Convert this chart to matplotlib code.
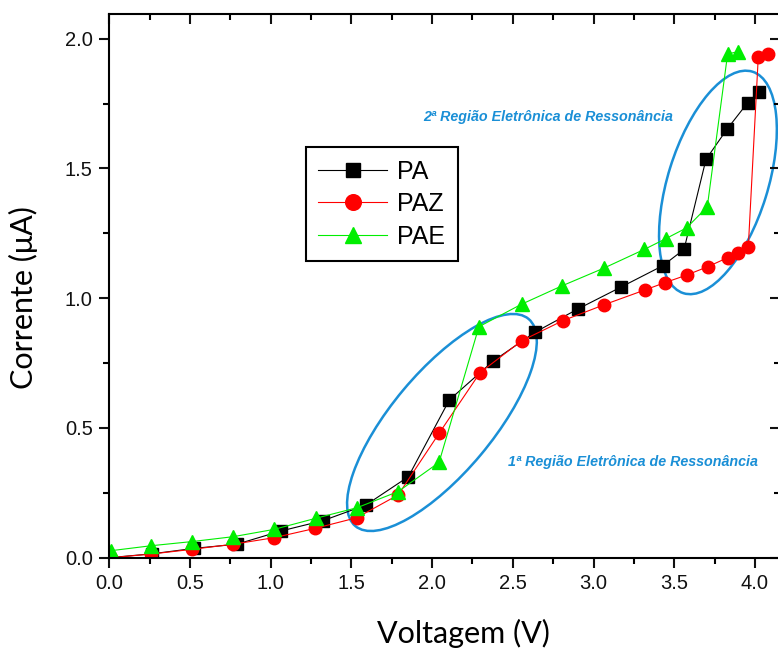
"""
Corrente vs Voltagem curves for PA, PAZ and PAE with resonance regions.
"""

import matplotlib
matplotlib.use('Agg')
import matplotlib.pyplot as plt
import matplotlib.transforms as mtransforms
from matplotlib.patches import Ellipse
from matplotlib.ticker import MultipleLocator, FormatStrFormatter

# PA (black squares)
pa_v = [0.0, 0.265, 0.527, 0.79, 1.064, 1.325, 1.59, 1.853, 2.107, 2.379, 2.638,
        2.902, 3.168, 3.429, 3.561, 3.697, 3.827, 3.955, 4.027]
pa_i = [0.0, 0.015, 0.036, 0.052, 0.103, 0.143, 0.203, 0.312, 0.608, 0.758, 0.869,
        0.958, 1.042, 1.125, 1.188, 1.535, 1.651, 1.753, 1.796]

# PAZ (red circles)
paz_v = [0.01, 0.258, 0.51, 0.768, 1.02, 1.275, 1.533, 1.79, 2.043, 2.297, 2.555,
         2.809, 3.067, 3.32, 3.443, 3.577, 3.707, 3.831, 3.893, 3.959, 4.021, 4.083]
paz_i = [0.0, 0.014, 0.032, 0.052, 0.077, 0.113, 0.154, 0.242, 0.479, 0.713, 0.836,
         0.913, 0.975, 1.032, 1.06, 1.089, 1.121, 1.156, 1.173, 1.196, 1.931, 1.941]

# PAE (green triangles)
pae_v = [0.01, 0.258, 0.51, 0.768, 1.02, 1.28, 1.537, 1.79, 2.043, 2.29, 2.555,
         2.803, 3.065, 3.315, 3.447, 3.577, 3.705, 3.831, 3.897]
pae_i = [0.027, 0.046, 0.062, 0.081, 0.109, 0.152, 0.193, 0.255, 0.367, 0.89, 0.977,
         1.047, 1.116, 1.188, 1.229, 1.271, 1.352, 1.941, 1.95]

BLUE = '#1a8fd6'

plt.rcParams['font.family'] = ['Liberation Sans', 'DejaVu Sans']

fig = plt.figure(figsize=(7.78, 6.5), dpi=100)
ax = fig.add_axes([109.3 / 778, (650 - 557.7) / 650,
                   (780 - 109.3) / 778, (557.7 - 14) / 650])

ax.plot(pa_v, pa_i, color='black', lw=0.8, marker='s', ms=8, label='PA')
ax.plot(paz_v, paz_i, color='red', lw=0.8, marker='o', ms=9, label='PAZ')
ax.plot(pae_v, pae_i, color='#00ee00', lw=0.8, marker='^', ms=9.5, label='PAE')

ax.set_xlim(0, (780 - 109.3) / 161.4)
ax.set_ylim(0, 2.095)

ax.xaxis.set_major_locator(MultipleLocator(0.5))
ax.xaxis.set_minor_locator(MultipleLocator(0.25))
ax.yaxis.set_major_locator(MultipleLocator(0.5))
ax.yaxis.set_minor_locator(MultipleLocator(0.25))
ax.xaxis.set_major_formatter(FormatStrFormatter('%.1f'))
ax.yaxis.set_major_formatter(FormatStrFormatter('%.1f'))

for s in ax.spines.values():
    s.set_linewidth(1.5)

ax.tick_params(which='major', direction='out', length=7, width=1.5,
               labelsize=14.5, pad=5, colors='#111111')
ax.tick_params(which='minor', direction='out', length=4.5, width=1.5)
ax.tick_params(which='both', top=True, right=True)
# mirror ticks on top/right point inward
for t in ax.xaxis.get_major_ticks() + ax.xaxis.get_minor_ticks():
    t.tick2line.set_marker(matplotlib.lines.TICKDOWN)
for t in ax.yaxis.get_major_ticks() + ax.yaxis.get_minor_ticks():
    t.tick2line.set_marker(matplotlib.lines.TICKLEFT)

ax.set_xlabel('Voltagem (V)', family=['Lato', 'DejaVu Sans'], fontsize=22)
ax.set_ylabel('Corrente (\u03bcA)', family=['Lato', 'DejaVu Sans'], fontsize=22)
ax.xaxis.set_label_coords(0.528, -0.112)
ax.yaxis.set_label_coords(-0.106, 0.478)

leg = ax.legend(loc='upper left', bbox_to_anchor=(0.293, 0.755), borderaxespad=0,
                fontsize=18, fancybox=False, edgecolor='black', framealpha=1,
                handlelength=2.75, handletextpad=0.4, labelspacing=0.34,
                markerscale=1.25, borderpad=0.5)
leg.get_frame().set_linewidth(1.5)

# resonance regions (ellipses sized in inches, centred in data coordinates)
for cx, cy, w, h, ang in [(2.061, 0.521, 2.70, 1.01, 50.1),
                          (3.771, 1.446, 2.32, 1.00, 72.7)]:
    tr = fig.dpi_scale_trans + mtransforms.ScaledTranslation(cx, cy, ax.transData)
    ax.add_patch(Ellipse((0, 0), w, h, angle=ang, transform=tr, fill=False,
                         edgecolor=BLUE, lw=1.8, clip_on=False))

ax.text(2.718, 1.698, '2ª Região Eletrônica de Ressonância', color=BLUE,
        fontsize=10.3, fontweight='bold', fontstyle='italic', ha='center', va='center')
ax.text(3.244, 0.369, '1ª Região Eletrônica de Ressonância', color=BLUE,
        fontsize=10.3, fontweight='bold', fontstyle='italic', ha='center', va='center')

fig.savefig('out.png', dpi=100)
plt.close()
print("Saved to out.png")
